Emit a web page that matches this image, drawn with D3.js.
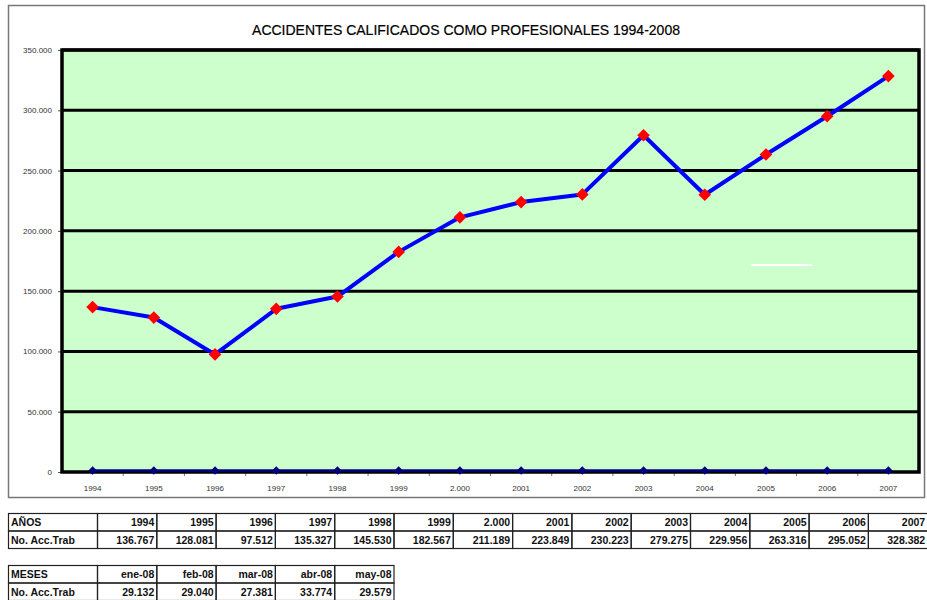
<!DOCTYPE html>
<html>
<head>
<meta charset="utf-8">
<title>Accidentes</title>
<script src="https://cdnjs.cloudflare.com/ajax/libs/d3/7.8.5/d3.min.js"></script>
<style>
  body { margin: 0; background: #fff; }
  svg { display: block; font-family: Arial, "Liberation Sans", sans-serif; }
</style>
</head>
<body>
<script>
// datos
var years = ["1994", "1995", "1996", "1997", "1998", "1999", "2.000", "2001", "2002", "2003", "2004", "2005", "2006", "2007"];
var accTrab = [136767, 128081, 97512, 135327, 145530, 182567, 211189, 223849, 230223, 279275, 229956, 263316, 295052, 328382];
var zeroSeries = [0, 0, 0, 0, 0, 0, 0, 0, 0, 0, 0, 0, 0, 0];
var yTicks = [0, 50000, 100000, 150000, 200000, 250000, 300000, 350000];
var months = ["ene-08", "feb-08", "mar-08", "abr-08", "may-08"];
var monthAcc = [29132, 29040, 27381, 33774, 29579];

var es = d3.formatLocale({decimal: ",", thousands: ".", grouping: [3], currency: ["", ""]});
var fmt = es.format(",");

var W = 927, H = 600;
var svg = d3.select("body").append("svg").attr("width", W).attr("height", H);

// marco exterior
svg.append("rect").attr("x", 8.5).attr("y", 5.5).attr("width", 916).attr("height", 492)
  .attr("fill", "#fff").attr("stroke", "#777").attr("stroke-width", 1.5);

svg.append("text").attr("x", 466).attr("y", 35).attr("text-anchor", "middle")
  .attr("font-size", 14).attr("fill", "#000").attr("stroke", "#000").attr("stroke-width", 0.2)
  .text("ACCIDENTES CALIFICADOS COMO PROFESIONALES 1994-2008");

var plot = {left: 62, right: 919, top: 50, bottom: 472};

var x = d3.scaleBand().domain(years).range([plot.left, plot.right]);
var y = d3.scaleLinear().domain([0, 350000]).range([plot.bottom, plot.top]);

svg.append("rect").attr("x", plot.left).attr("y", plot.top)
  .attr("width", plot.right - plot.left).attr("height", plot.bottom - plot.top)
  .attr("fill", "#ccffcc");

// lineas de division
svg.append("g").selectAll("line").data(yTicks.slice(1)).enter().append("line")
  .attr("x1", plot.left).attr("x2", plot.right)
  .attr("y1", function(d) { return y(d); }).attr("y2", function(d) { return y(d); })
  .attr("stroke", "#000").attr("stroke-width", 3);

// eje y
var yAxis = svg.append("g").attr("transform", "translate(" + plot.left + ",0)")
  .call(d3.axisLeft(y).tickValues(yTicks).tickFormat(fmt).tickSize(4).tickPadding(6));
yAxis.select(".domain").remove();
yAxis.selectAll("line").attr("stroke", "#555");
yAxis.selectAll("text").attr("font-size", 8).attr("fill", "#333")
  .attr("font-family", "Arial, 'Liberation Sans', sans-serif");

// eje x
var xAxis = svg.append("g").attr("transform", "translate(0," + plot.bottom + ")")
  .call(d3.axisBottom(x).tickSize(0).tickPadding(13));
xAxis.select(".domain").remove();
xAxis.selectAll("text").attr("font-size", 8).attr("fill", "#333")
  .attr("font-family", "Arial, 'Liberation Sans', sans-serif");
svg.append("g").selectAll("line").data(years.slice(1)).enter().append("line")
  .attr("x1", function(d) { return x(d); }).attr("x2", function(d) { return x(d); })
  .attr("y1", plot.bottom).attr("y2", plot.bottom + 4)
  .attr("stroke", "#777");

// borde del area
svg.append("rect").attr("x", plot.left).attr("y", plot.top)
  .attr("width", plot.right - plot.left).attr("height", plot.bottom - plot.top)
  .attr("fill", "none").attr("stroke", "#000").attr("stroke-width", 3.5);

// serie en cero
var cx = function(d, i) { return x(years[i]) + x.bandwidth() / 2; };
svg.append("path").datum(zeroSeries)
  .attr("d", d3.line().x(cx).y(function(d) { return y(d) - 1.5; }))
  .attr("fill", "none").attr("stroke", "#000080").attr("stroke-width", 2.5);
svg.append("g").selectAll("path").data(zeroSeries).enter().append("path")
  .attr("d", d3.symbol(d3.symbolSquare, 36))
  .attr("transform", function(d, i) { return "translate(" + cx(d, i) + "," + (y(d) - 1.5) + ") rotate(45)"; })
  .attr("fill", "#000080");

// serie principal
svg.append("path").datum(accTrab).attr("d", d3.line().x(cx).y(function(d) { return y(d); }))
  .attr("fill", "none").attr("stroke", "#0000ff").attr("stroke-width", 4)
  .attr("stroke-linejoin", "round");
svg.append("g").selectAll("path").data(accTrab).enter().append("path")
  .attr("d", d3.symbol(d3.symbolSquare, 80))
  .attr("transform", function(d, i) { return "translate(" + cx(d, i) + "," + y(d) + ") rotate(45)"; })
  .attr("fill", "#ff0000");

// linea blanca suelta
svg.append("line").attr("x1", 751).attr("x2", 812).attr("y1", 265).attr("y2", 265)
  .attr("stroke", "#fff").attr("stroke-width", 2);

// tablas
function drawTable(top, head, labels, values, rowLabel) {
  var colW = 59.3, firstW = 89, rowH = 17.5, x0 = 8;
  var g = svg.append("g");
  var rows = [[head].concat(labels), [rowLabel].concat(values.map(fmt))];
  rows.forEach(function(r, ri) {
    r.forEach(function(t, ci) {
      var left = ci === 0 ? x0 : x0 + firstW + (ci - 1) * colW;
      var w = ci === 0 ? firstW : colW;
      g.append("rect").attr("x", left + 0.5).attr("y", top + ri * rowH + 0.5)
        .attr("width", w).attr("height", rowH)
        .attr("fill", "none").attr("stroke", "#222").attr("stroke-width", 1.2);
      g.append("text")
        .attr("x", ci === 0 ? left + 3 : left + w - 2)
        .attr("y", top + ri * rowH + 13)
        .attr("text-anchor", ci === 0 ? "start" : "end")
        .attr("font-size", 10.5).attr("fill", "#111")
        .attr("font-weight", "bold")
        .text(t);
    });
  });
}
drawTable(513, "AÑOS", years, accTrab, "No. Acc.Trab");
drawTable(565, "MESES", months, monthAcc, "No. Acc.Trab");
</script>
</body>
</html>
